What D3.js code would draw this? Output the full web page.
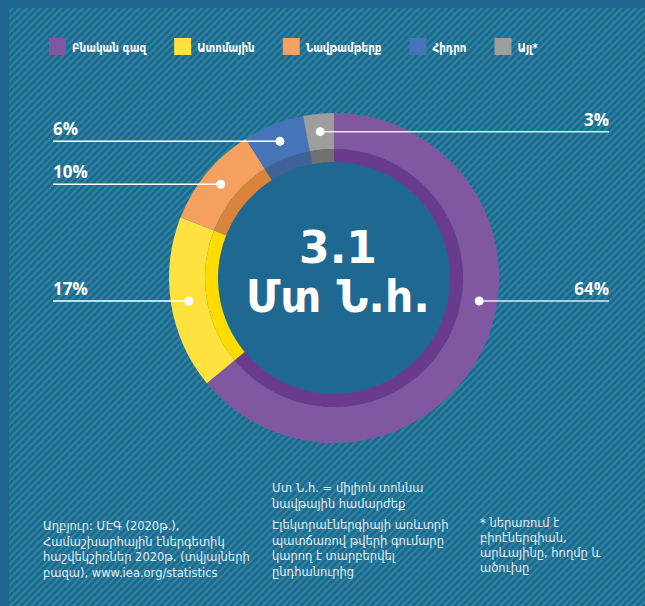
<!DOCTYPE html>
<html>
<head>
<meta charset="utf-8">
<script src="https://cdn.jsdelivr.net/npm/d3@7"></script>
<style>
  html, body { margin: 0; padding: 0; background: #1f6891; }
  svg { display: block; }
</style>
</head>
<body>
<div id="chart"></div>
<script>
// energy mix, shares in %
const categories = ["Բնական գազ", "Ատոմային", "Նավթամթերք", "Հիդրո", "Այլ*"];
const shares = [64, 17, 10, 6, 3];
const totalLines = ["3.1", "Մտ Ն.հ."];
const noteUnit = ["Մտ Ն.հ. = միլիոն տոննա", "նավթային համարժեք"];
const noteTrade = ["Էլեկտրաէներգիայի առևտրի", "պատճառով թվերի գումարը", "կարող է տարբերվել", "ընդհանուրից"];
const noteSource = ["Աղբյուր: ՄԷԳ (2020թ.),", "Համաշխարհային էներգետիկ", "հաշվեկշիռներ 2020թ. (տվյալների", "բազա), www.iea.org/statistics"];
const noteOther = ["* ներառում է", "բիոէներգիան,", "արևայինը, հողմը և", "ածուխը"];

const W = 645, H = 606;
const cx = 334, cy = 278;
const armFont = "'DejaVu Sans', sans-serif";
const condFont = "'DejaVu Sans Condensed', 'DejaVu Sans', sans-serif";

const outerColor = d3.scaleOrdinal(categories, ["#7f58a1", "#ffe13f", "#f6a05f", "#4574b8", "#9e9e9e"]);
const innerColor = d3.scaleOrdinal(categories, ["#6a3a8c", "#ffdc00", "#da843b", "#3f6196", "#717171"]);

const svg = d3.select("#chart").append("svg")
    .attr("width", W)
    .attr("height", H)
    .attr("viewBox", [0, 0, W, H]);

// striped background
const defs = svg.append("defs");
const pat = defs.append("pattern")
    .attr("id", "stripes")
    .attr("patternUnits", "userSpaceOnUse")
    .attr("width", 7)
    .attr("height", 7);
pat.append("rect").attr("width", 7).attr("height", 7).attr("fill", "#1f6891");
pat.append("path")
    .attr("d", "M-1,1 l2,-2 M0,7 l7,-7 M6,8 l2,-2")
    .attr("stroke", "#2b869d")
    .attr("stroke-width", 2);

svg.append("rect").attr("width", W).attr("height", H).attr("fill", "#1e6590");
svg.append("rect")
    .attr("x", 9).attr("y", 8)
    .attr("width", W - 9).attr("height", H - 8)
    .attr("fill", "url(#stripes)");

// legend
const legend = svg.append("g").attr("transform", "translate(49,38)");
let lx = 0;
categories.forEach(c => {
    const g = legend.append("g").attr("transform", `translate(${lx},0)`);
    g.append("rect").attr("width", 17).attr("height", 17).attr("fill", outerColor(c));
    const t = g.append("text")
        .attr("x", 23).attr("y", 14)
        .attr("fill", "#fff")
        .style("font", `bold 11.5px ${condFont}`)
        .text(c);
    lx += 23 + t.node().getComputedTextLength() + 28;
});

// donut
const pie = d3.pie().sort(null).value(d => d)(shares);
const outerArc = d3.arc().innerRadius(129).outerRadius(165);
const innerArc = d3.arc().innerRadius(116).outerRadius(129);

const donut = svg.append("g").attr("transform", `translate(${cx},${cy})`);
donut.append("circle").attr("r", 116).attr("fill", "#1f6891");
donut.selectAll("path.outer")
    .data(pie)
    .join("path")
    .attr("class", "outer")
    .attr("fill", (d, i) => outerColor(categories[i]))
    .attr("d", outerArc);
donut.selectAll("path.inner")
    .data(pie)
    .join("path")
    .attr("class", "inner")
    .attr("fill", (d, i) => innerColor(categories[i]))
    .attr("d", innerArc);

// label anchors: middle of each slice; the big slice is labelled level with the 17% one, on the other side
const rDot = 147;
const mid = d => (d.startAngle + d.endAngle) / 2;
const biggest = d3.maxIndex(shares);
const anchors = pie.map((d, i) => {
    let a = mid(d);
    if (i === biggest) a = 2 * Math.PI - mid(pie[1]);
    return [cx + rDot * Math.sin(a), cy - rDot * Math.cos(a)];
});
// slices touching 12 o'clock from the left still get their label on the right
const onRight = (d, i) => i === biggest || d.endAngle >= 2 * Math.PI - 1e-6;

const labels = svg.append("g");
pie.forEach((d, i) => {
    const [x, y] = anchors[i];
    const left = !onRight(d, i);
    const x0 = left ? 53 : 609;
    labels.append("line")
        .attr("x1", x0).attr("x2", x)
        .attr("y1", y).attr("y2", y)
        .attr("stroke", "#fff")
        .attr("stroke-opacity", left ? 1 : 0.85)
        .attr("stroke-width", 1.5);
    labels.append("circle")
        .attr("cx", x).attr("cy", y).attr("r", 4.5)
        .attr("fill", "#fff");
    labels.append("text")
        .attr("x", x0).attr("y", y - 6)
        .attr("text-anchor", left ? "start" : "end")
        .attr("fill", "#fff")
        .style("font", "bold 17px 'Open Sans', sans-serif")
        .text(shares[i] + "%");
});

// total in the middle
svg.append("g")
    .attr("fill", "#fff")
    .attr("text-anchor", "middle")
    .style("font", `bold 44px ${armFont}`)
    .selectAll("text")
    .data(totalLines)
    .join("text")
    .attr("x", 338)
    .attr("y", (d, i) => 263 + i * 49)
    .text(d => d);

// notes at the bottom
function block(lines, x, y, step) {
    svg.append("g")
        .attr("fill", "#e4eef5")
        .style("font", `11.5px ${armFont}`)
        .selectAll("text")
        .data(lines)
        .join("text")
        .attr("x", x)
        .attr("y", (d, i) => y + i * step)
        .text(d => d);
}
block(noteUnit, 272, 492, 15.5);
block(noteTrade, 272, 529, 15.5);
block(noteSource, 43, 530, 15.7);
block(noteOther, 480, 527, 15);
</script>
</body>
</html>
